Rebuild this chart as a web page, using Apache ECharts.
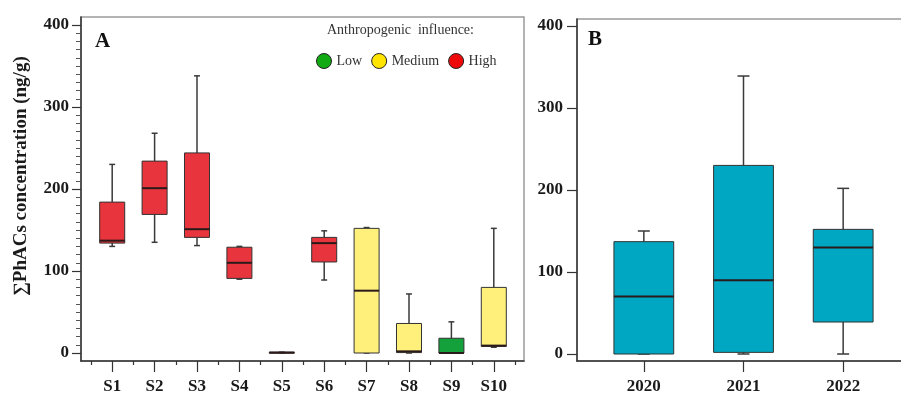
<!DOCTYPE html>
<html>
<head>
<meta charset="utf-8">
<script src="https://cdn.jsdelivr.net/npm/echarts@6/dist/echarts.min.js"></script>
<style>
html, body { margin: 0; padding: 0; background: #fff; }
#main { width: 901px; height: 397px; }
</style>
</head>
<body>
<div id="main"></div>
<script>
// panel A: sites, each row is [min, q1, median, q3, max]
var sites = ['S1', 'S2', 'S3', 'S4', 'S5', 'S6', 'S7', 'S8', 'S9', 'S10'];
var siteLevel = ['High', 'High', 'High', 'High', 'High', 'High', 'Medium', 'Medium', 'Low', 'Medium'];
var siteStats = [
    [130, 134, 137, 184, 230],
    [135, 169, 201, 234, 268],
    [131, 141, 151, 244, 338],
    [90, 91, 110, 129, 130],
    [0, 0, 0.5, 1, 1],
    [89, 111, 134, 141, 149],
    [0, 0, 76, 152, 153],
    [0, 0.5, 2, 36, 72],
    [0, 0, 0, 18, 38],
    [7, 8, 9, 80, 152]
];

// panel B: years
var years = ['2020', '2021', '2022'];
var yearStats = [
    [0, 0, 70, 137, 150],
    [0, 2, 90, 230, 339],
    [0, 39, 130, 152, 202]
];

var levels = ['Low', 'Medium', 'High'];
var levelFill = { Low: '#14a03a', Medium: '#fff07c', High: '#e8343c' };
var legendFill = { Low: '#12aa12', Medium: '#ffe400', High: '#ee0a0a' };

var serif = "'Liberation Serif', 'Times New Roman', serif";
var axisColor = '#333';

// draws one box with short whisker caps
function boxRenderer(boxFrac, capFrac, fill) {
    return function (params, api) {
        var i = api.value(0);
        var band = api.size([1, 0])[0];
        var bw = band * boxFrac;
        var cw = band * capFrac;
        var pMin = api.coord([i, api.value(1)]);
        var pQ1 = api.coord([i, api.value(2)]);
        var pMed = api.coord([i, api.value(3)]);
        var pQ3 = api.coord([i, api.value(4)]);
        var pMax = api.coord([i, api.value(5)]);
        var x = pMin[0];
        var ws = { stroke: '#3a3a3a', lineWidth: 1.5 };
        return {
            type: 'group',
            children: [
                { type: 'line', shape: { x1: x, y1: pQ3[1], x2: x, y2: pMax[1] }, style: ws },
                { type: 'line', shape: { x1: x - cw / 2, y1: pMax[1], x2: x + cw / 2, y2: pMax[1] }, style: ws },
                { type: 'line', shape: { x1: x, y1: pQ1[1], x2: x, y2: pMin[1] }, style: ws },
                { type: 'line', shape: { x1: x - cw / 2, y1: pMin[1], x2: x + cw / 2, y2: pMin[1] }, style: ws },
                {
                    type: 'rect',
                    shape: { x: x - bw / 2, y: pQ3[1], width: bw, height: Math.max(pQ1[1] - pQ3[1], 1) },
                    style: { fill: fill, stroke: '#333', lineWidth: 1 }
                },
                { type: 'line', shape: { x1: x - bw / 2, y1: pMed[1], x2: x + bw / 2, y2: pMed[1] }, style: { stroke: '#2a1a1a', lineWidth: 2 } }
            ]
        };
    };
}

var series = [];
levels.forEach(function (lv) {
    var data = [];
    sites.forEach(function (s, i) {
        if (siteLevel[i] === lv) {
            data.push([i].concat(siteStats[i]));
        }
    });
    series.push({
        name: lv,
        type: 'custom',
        xAxisIndex: 1,
        yAxisIndex: 1,
        itemStyle: { color: legendFill[lv] },
        renderItem: boxRenderer(0.59, 0.14, levelFill[lv]),
        encode: { x: 0, y: [1, 2, 3, 4, 5] },
        data: data
    });
});

series.push({
    name: 'years',
    type: 'custom',
    xAxisIndex: 4,
    yAxisIndex: 3,
    renderItem: boxRenderer(0.6, 0.12, '#00a7c2'),
    encode: { x: 0, y: [1, 2, 3, 4, 5] },
    data: yearStats.map(function (r, i) { return [i].concat(r); })
});

var frameAxis = {
    type: 'value', min: 0, max: 1,
    axisLine: { show: true, onZero: false, lineStyle: { color: axisColor, width: 1.5 } },
    axisTick: { show: false }, axisLabel: { show: false }, splitLine: { show: false }
};
var tickLabel = { fontFamily: serif, fontWeight: 'bold', fontSize: 17, color: '#1a1a1a' };

var option = {
    animation: false,
    title: [
        { text: 'A', left: 90, top: 26, textStyle: { fontFamily: serif, fontWeight: 'bold', fontSize: 21, color: '#111' } },
        { text: 'B', left: 583, top: 24, textStyle: { fontFamily: serif, fontWeight: 'bold', fontSize: 21, color: '#111' } },
        { text: 'Anthropogenic  influence:', left: 322, top: 18, textStyle: { fontFamily: serif, fontWeight: 'normal', fontSize: 14, color: '#333' } }
    ],
    legend: {
        left: 311, top: 48,
        icon: 'circle', itemWidth: 15, itemHeight: 15, itemGap: 9,
        textStyle: { fontFamily: serif, fontSize: 14, color: '#333' },
        data: levels.map(function (lv) {
            return { name: lv, itemStyle: { color: legendFill[lv], borderColor: '#222', borderWidth: 1 } };
        })
    },
    grid: [
        { left: 81, top: 17, width: 443, height: 344, show: true, borderColor: '#9a9a9a', borderWidth: 1.5, outerBoundsMode: 'none' },
        { left: 91, top: 25, width: 424, height: 328, outerBoundsMode: 'none' },
        { left: 577, top: 19, width: 400, height: 342, show: true, borderColor: '#9a9a9a', borderWidth: 1.5, outerBoundsMode: 'none' },
        { left: 594, top: 26, width: 299, height: 328, outerBoundsMode: 'none' }
    ],
    xAxis: [
        Object.assign({ gridIndex: 0 }, frameAxis),
        {
            gridIndex: 1, type: 'category', data: sites, position: 'bottom', offset: 8,
            axisLine: { show: false, onZero: false },
            axisTick: { show: true, alignWithLabel: false, length: 4, lineStyle: { color: axisColor, width: 1.2 } },
            axisLabel: { show: false }
        },
        {
            gridIndex: 1, type: 'category', data: sites, position: 'bottom', offset: 8,
            axisLine: { show: false, onZero: false },
            axisTick: { show: true, alignWithLabel: true, length: 11, lineStyle: { color: axisColor, width: 1.2 } },
            axisLabel: Object.assign({ margin: 17 }, tickLabel)
        },
        Object.assign({ gridIndex: 2 }, frameAxis),
        {
            gridIndex: 3, type: 'category', data: years, position: 'bottom', offset: 7,
            axisLine: { show: false, onZero: false },
            axisTick: { show: true, alignWithLabel: true, length: 11, lineStyle: { color: axisColor, width: 1.2 } },
            axisLabel: Object.assign({ margin: 17 }, tickLabel)
        }
    ],
    yAxis: [
        Object.assign({ gridIndex: 0 }, frameAxis),
        {
            gridIndex: 1, type: 'value', min: 0, max: 400, interval: 100, offset: 10,
            axisLine: { show: false },
            axisTick: { show: true, length: 9, lineStyle: { color: axisColor, width: 1.2 } },
            minorTick: { show: true, splitNumber: 10, length: 5, lineStyle: { color: '#555', width: 1 } },
            axisLabel: Object.assign({ margin: 12 }, tickLabel),
            splitLine: { show: false },
            name: '\u2211PhACs concentration (ng/g)',
            nameLocation: 'middle', nameGap: 50,
            nameTextStyle: { fontFamily: serif, fontWeight: 'bold', fontSize: 19, color: '#1a1a1a', padding: [0, 0, 0, 26] }
        },
        Object.assign({ gridIndex: 2 }, frameAxis),
        {
            gridIndex: 3, type: 'value', min: 0, max: 400, interval: 100, offset: 17,
            axisLine: { show: false },
            axisTick: { show: true, length: 10, lineStyle: { color: axisColor, width: 1.2 } },
            axisLabel: Object.assign({ margin: 14 }, tickLabel),
            splitLine: { show: false }
        }
    ],
    series: series
};

var chart = echarts.init(document.getElementById('main'));
chart.setOption(option);
</script>
</body>
</html>
